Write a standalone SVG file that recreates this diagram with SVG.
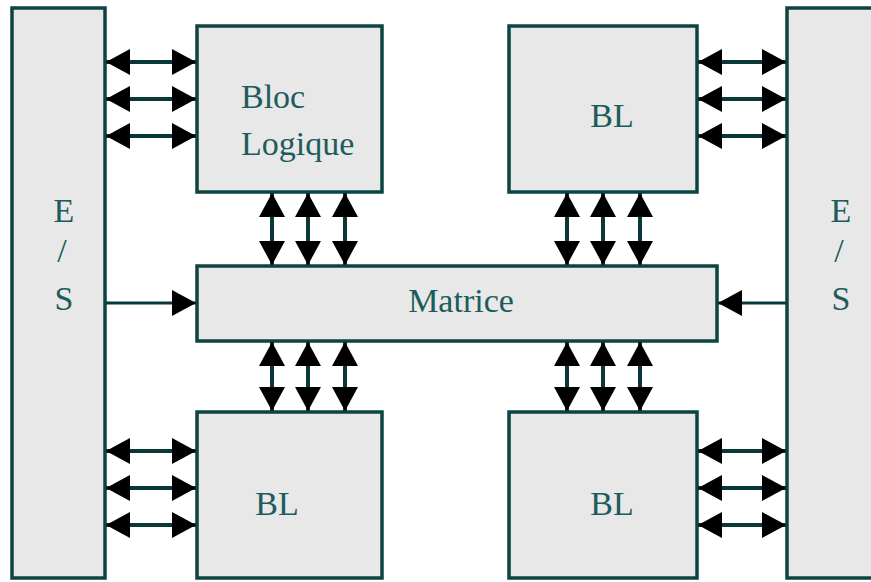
<svg xmlns="http://www.w3.org/2000/svg" width="871" height="582" viewBox="0 0 871 582">
<style>
.box{fill:#e8e8e8;stroke:#0c4444;stroke-width:3.5}
.lbl{font-family:"Liberation Serif","Times New Roman",serif;font-size:34px;fill:#1d5c5c;text-anchor:middle}
.bi{fill:none;stroke:#0a3838;stroke-width:4;marker-start:url(#ah);marker-end:url(#ah)}
.uni{fill:none;stroke:#0a3838;stroke-width:3;marker-end:url(#ah)}
</style>
<defs>
<marker id="ah" viewBox="0 0 24 26" refX="24" refY="13" markerWidth="24" markerHeight="26" markerUnits="userSpaceOnUse" orient="auto-start-reverse">
<path d="M0,0 L24,13 L0,26 z" fill="#000"/>
</marker>
</defs>
<rect width="871" height="582" fill="#fff"/>
<g id="es-left">
<rect class="box" x="12" y="8" width="93" height="570"/>
<text class="lbl" x="64" y="222">E</text>
<text class="lbl" x="62" y="262">/</text>
<text class="lbl" x="64" y="310">S</text>
</g>
<g id="es-right">
<rect class="box" x="787" y="8" width="100" height="570"/>
<text class="lbl" x="841" y="222">E</text>
<text class="lbl" x="839" y="262">/</text>
<text class="lbl" x="841" y="310">S</text>
</g>
<g id="bloc-logique">
<rect class="box" x="197" y="26" width="185" height="166"/>
<text class="lbl" x="241" y="108" style="text-anchor:start">Bloc</text>
<text class="lbl" x="241" y="155" style="text-anchor:start">Logique</text>
</g>
<g id="bl-top-right">
<rect class="box" x="509" y="26" width="188" height="166"/>
<text class="lbl" x="612" y="127">BL</text>
</g>
<g id="matrice">
<rect class="box" x="197" y="266" width="520" height="75"/>
<text class="lbl" x="461" y="312">Matrice</text>
</g>
<g id="bl-bottom-left">
<rect class="box" x="197" y="412" width="185" height="166"/>
<text class="lbl" x="277" y="515">BL</text>
</g>
<g id="bl-bottom-right">
<rect class="box" x="509" y="412" width="188" height="166"/>
<text class="lbl" x="612" y="515">BL</text>
</g>
<g id="connectors">
<path class="bi" d="M106,62 H196"/>
<path class="bi" d="M106,99 H196"/>
<path class="bi" d="M106,136 H196"/>
<path class="bi" d="M698,62 H786"/>
<path class="bi" d="M698,99 H786"/>
<path class="bi" d="M698,136 H786"/>
<path class="bi" d="M106,451 H196"/>
<path class="bi" d="M106,488 H196"/>
<path class="bi" d="M106,525 H196"/>
<path class="bi" d="M698,451 H786"/>
<path class="bi" d="M698,488 H786"/>
<path class="bi" d="M698,525 H786"/>
<path class="bi" d="M272,193 V265"/>
<path class="bi" d="M308,193 V265"/>
<path class="bi" d="M345,193 V265"/>
<path class="bi" d="M567,193 V265"/>
<path class="bi" d="M603,193 V265"/>
<path class="bi" d="M640,193 V265"/>
<path class="bi" d="M272,342 V411"/>
<path class="bi" d="M308,342 V411"/>
<path class="bi" d="M345,342 V411"/>
<path class="bi" d="M567,342 V411"/>
<path class="bi" d="M603,342 V411"/>
<path class="bi" d="M640,342 V411"/>
<path class="uni" d="M106,303 H196"/>
<path class="uni" d="M786,303 H718"/>
</g>
</svg>
